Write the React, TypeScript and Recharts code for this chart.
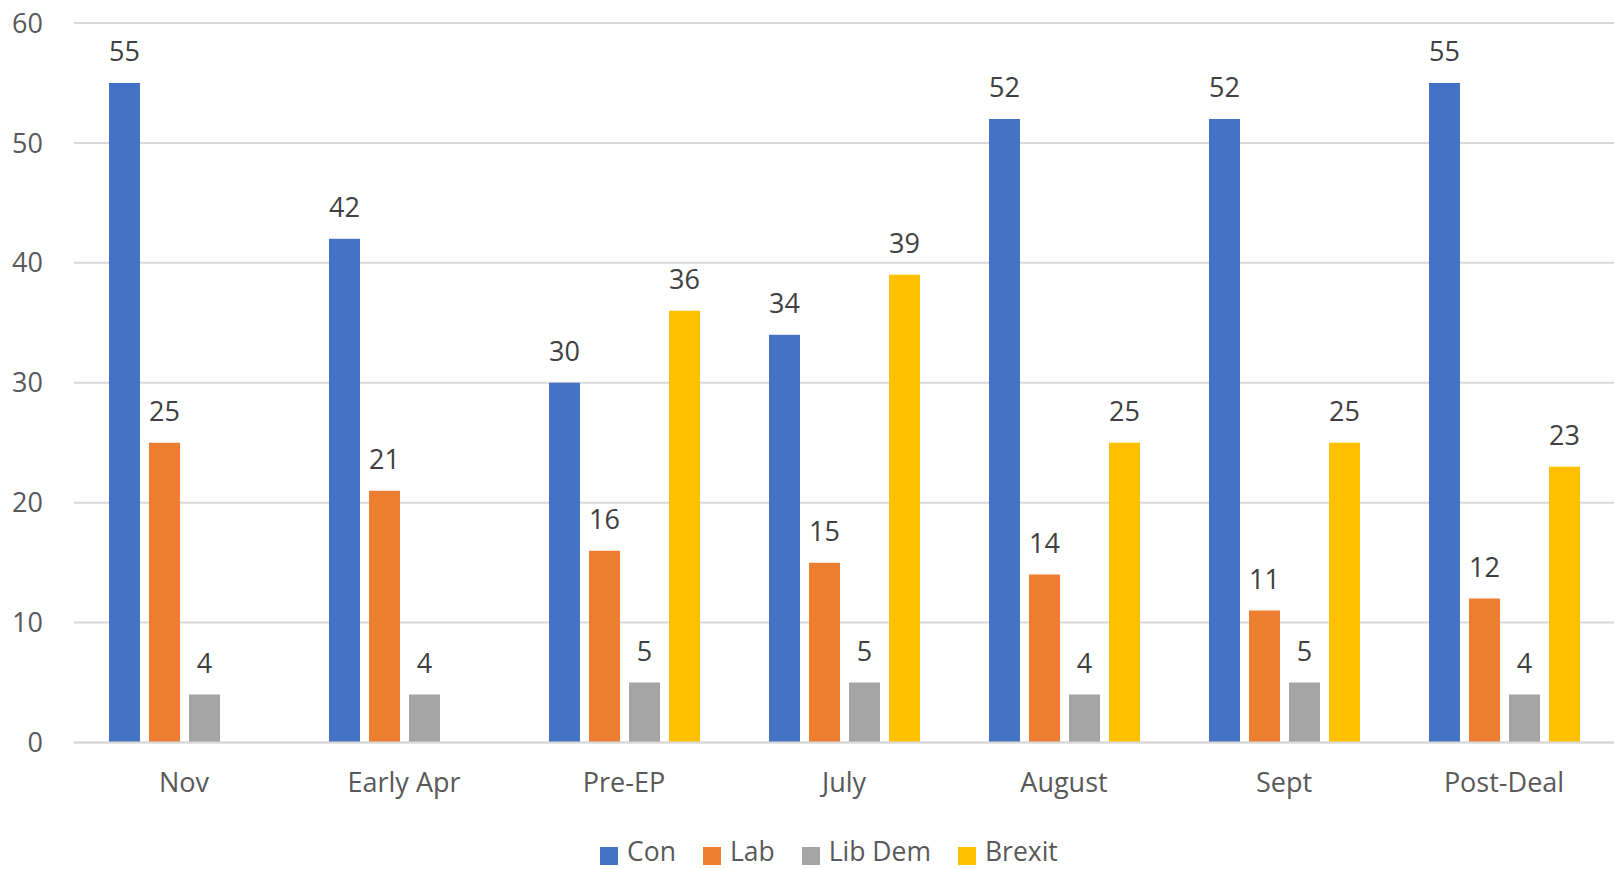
import React from 'react';
import { BarChart, Bar, XAxis, YAxis, CartesianGrid, Legend, LabelList } from 'recharts';

const categories = ['Nov', 'Early Apr', 'Pre-EP', 'July', 'August', 'Sept', 'Post-Deal'];
const con = [55, 42, 30, 34, 52, 52, 55];
const lab = [25, 21, 16, 15, 14, 11, 12];
const libDem = [4, 4, 5, 5, 4, 5, 4];
const brexit: (number | null)[] = [null, null, 36, 39, 25, 25, 23];
const yTicks = [0, 10, 20, 30, 40, 50, 60];

const series = [
  { key: 'con', name: 'Con', color: '#4472C4' },
  { key: 'lab', name: 'Lab', color: '#ED7D31' },
  { key: 'libDem', name: 'Lib Dem', color: '#A5A5A5' },
  { key: 'brexit', name: 'Brexit', color: '#FFC000' },
];

const data = categories.map((name, i) => ({
  name,
  con: con[i],
  lab: lab[i],
  libDem: libDem[i],
  brexit: brexit[i],
}));

const FONT = '"Open Sans", sans-serif';
const FS = 27;

function LegendContent() {
  return (
    <div style={{ display: 'flex', alignItems: 'flex-start', height: 28, lineHeight: '28px', fontFamily: FONT, fontSize: 26.5, color: '#595959' }}>
      {series.map((s) => (
        <div key={s.key} style={{ display: 'flex', alignItems: 'flex-start', marginRight: 27 }}>
          <span style={{ width: 18, height: 18, background: s.color, display: 'inline-block', marginTop: 10, marginRight: 9 }} />
          <span>{s.name}</span>
        </div>
      ))}
    </div>
  );
}

export default function App() {
  return (
    <div style={{ position: 'absolute', left: 0, top: 0, fontFamily: FONT }}>
      <BarChart
        width={1614}
        height={869}
        data={data}
        margin={{ top: 23, right: 0, left: 0, bottom: 68.5 }}
        barSize={31}
        barGap={9}
      >
        <CartesianGrid vertical={false} stroke="#D9D9D9" strokeWidth={2} />
        <XAxis
          dataKey="name"
          axisLine={{ stroke: '#D9D9D9', strokeWidth: 2 }}
          tickLine={false}
          tickMargin={24.5}
          height={30}
          tick={{ fill: '#595959', fontSize: FS, fontFamily: FONT }}
        />
        <YAxis
          domain={[0, 60]}
          ticks={yTicks}
          width={74}
          axisLine={false}
          tickLine={false}
          tickMargin={25}
          tick={{ fill: '#595959', fontSize: FS, fontFamily: FONT }}
        />
        <Legend
          content={<LegendContent />}
          verticalAlign="bottom"
          wrapperStyle={{ top: 837, left: 600, bottom: 'auto', width: 'auto' }}
        />
        {series.map((s) => (
          <Bar key={s.key} dataKey={s.key} name={s.name} fill={s.color} isAnimationActive={false}>
            <LabelList
              dataKey={s.key}
              position="top"
              offset={22}
              fill="#404040"
              fontSize={FS}
              fontFamily={FONT}
            />
          </Bar>
        ))}
      </BarChart>
    </div>
  );
}
